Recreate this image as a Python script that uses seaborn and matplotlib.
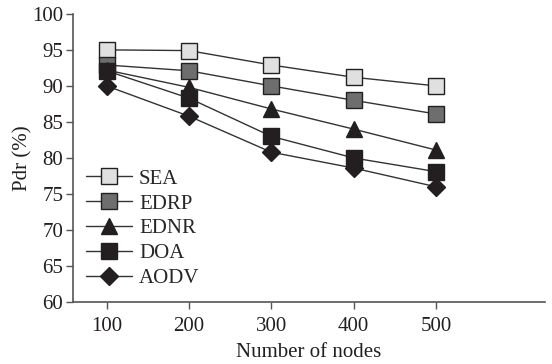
import matplotlib
matplotlib.use("Agg")
import matplotlib.pyplot as plt
import seaborn as sns
import pandas as pd

sns.set_style("ticks")
plt.rcParams['font.family'] = ['Liberation Serif', 'DejaVu Serif']

nodes = [100, 200, 300, 400, 500]
sea = [95.0, 94.9, 92.9, 91.2, 90.0]
edrp = [92.9, 92.1, 90.0, 88.0, 86.1]
ednr = [92.2, 89.8, 86.8, 84.0, 81.1]
doa = [92.1, 88.3, 83.0, 80.0, 78.1]
aodv = [90.0, 85.8, 80.8, 78.6, 76.0]

series = ["SEA", "EDRP", "EDNR", "DOA", "AODV"]
values = [sea, edrp, ednr, doa, aodv]
markers = ["s", "s", "^", "s", "D"]
faces = ["#e0e0e0", "#6e6e6e", "#231f20", "#231f20", "#231f20"]
sizes = [12, 12, 11, 12, 9]

fig = plt.figure(figsize=(5.52, 3.64), dpi=100)
ax = fig.add_axes([0.132, 0.170, 0.855, 0.792])

for name, vals, m, fc, ms in zip(series, values, markers, faces, sizes):
    df = pd.DataFrame({"Number of nodes": nodes, "Pdr": vals})
    sns.lineplot(data=df, x="Number of nodes", y="Pdr", ax=ax, color="#333333",
                 marker=m, markersize=ms, markerfacecolor=fc,
                 markeredgecolor="#231f20", markeredgewidth=1.0,
                 linewidth=1.0, label=name)

ax.set_xlim(59, 632)
ax.set_ylim(60, 100)
ax.set_xticks(nodes)
ax.set_yticks([60, 65, 70, 75, 80, 85, 90, 95, 100])
ax.tick_params(axis='both', labelsize=15, length=5, width=1, color="#555555",
               colors="#231f20")
ax.tick_params(axis='x', pad=6)
ax.tick_params(axis='y', pad=2)
ax.tick_params(axis='both', color="#555555")
for s in ["top", "right"]:
    ax.spines[s].set_visible(False)
for s in ["left", "bottom"]:
    ax.spines[s].set_color("#555555")
    ax.spines[s].set_linewidth(1.2)
ax.set_xlabel("Number of nodes", fontsize=15, labelpad=5, color="#231f20")
ax.set_ylabel("Pdr (%)", fontsize=15, labelpad=0, color="#231f20")

leg = ax.legend(loc="upper left", bbox_to_anchor=(0.01, 0.49), frameon=False,
                fontsize=15, handlelength=2.2, handletextpad=0.35,
                labelspacing=0.25, borderaxespad=0)

fig.savefig("out.png", dpi=100)
